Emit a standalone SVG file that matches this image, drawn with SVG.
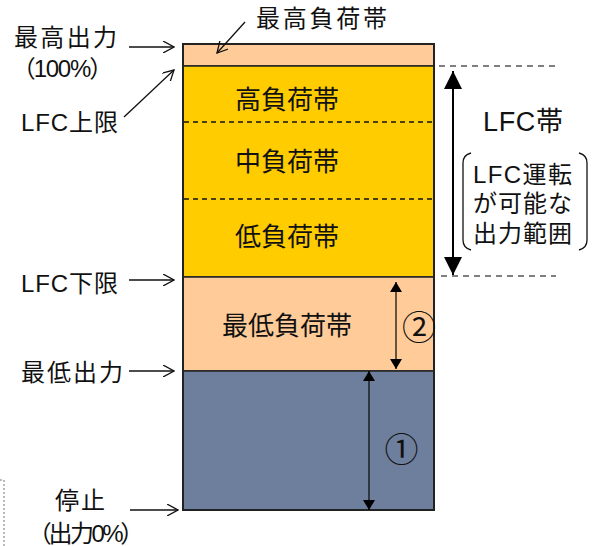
<svg xmlns="http://www.w3.org/2000/svg" width="601" height="546" viewBox="0 0 601 546">
<defs>
<style>
text{font-family:"Liberation Sans","Noto Sans CJK JP",sans-serif;fill:#111;}
.l{font-size:24px;}
.c{font-size:26px;}
.n{font-size:27px;}
.p{font-feature-settings:"palt";}
.cd{font-family:"Noto Sans CJK JP",sans-serif;font-size:34px;}
.band{stroke:#222;stroke-width:1.5;}
.dash{stroke:#111;stroke-width:1.3;stroke-dasharray:5 4;fill:none;}
.gdash{stroke:#555;stroke-width:1.5;stroke-dasharray:6 5;fill:none;}
.pt{stroke:#111;stroke-width:1.3;fill:none;}
.ar{stroke:#111;stroke-width:1.3;fill:none;marker-end:url(#open);}
.ln{stroke:#111;stroke-width:1.3;fill:none;}
</style>
<marker id="open" viewBox="0 0 12 12" refX="11" refY="6" markerWidth="12" markerHeight="12" markerUnits="userSpaceOnUse" orient="auto">
<path d="M0,0 L11,6 L0,12" fill="none" stroke="#111" stroke-width="1.3"/>
</marker>
<marker id="fs" viewBox="0 0 10 12" refX="10" refY="6" markerWidth="10" markerHeight="12" markerUnits="userSpaceOnUse" orient="auto">
<path d="M0,0 L10,6 L0,12 Z" fill="#000"/>
</marker>
<marker id="fsStart" viewBox="0 0 10 12" refX="0" refY="6" markerWidth="10" markerHeight="12" markerUnits="userSpaceOnUse" orient="auto">
<path d="M10,0 L0,6 L10,12 Z" fill="#000"/>
</marker>
<marker id="fb" viewBox="0 0 18 18" refX="18" refY="9" markerWidth="18" markerHeight="18" markerUnits="userSpaceOnUse" orient="auto">
<path d="M0,0 L18,9 L0,18 Z" fill="#000"/>
</marker>
<marker id="fbStart" viewBox="0 0 18 18" refX="0" refY="9" markerWidth="18" markerHeight="18" markerUnits="userSpaceOnUse" orient="auto">
<path d="M18,0 L0,9 L18,18 Z" fill="#000"/>
</marker>
</defs>
<rect width="601" height="546" fill="#fff"/>

<g id="band-max">
<rect x="183" y="44" width="251" height="22" fill="#FFCC99" class="band"/>
</g>
<g id="band-lfc">
<rect x="183" y="66" width="251" height="211" fill="#FFCC00" class="band"/>
<line x1="184" y1="122" x2="433" y2="122" class="dash"/>
<line x1="184" y1="199" x2="433" y2="199" class="dash"/>
<text class="c" x="235" y="109" textLength="104" lengthAdjust="spacing">高負荷帯</text>
<text class="c" x="235" y="171" textLength="104" lengthAdjust="spacing">中負荷帯</text>
<text class="c" x="235" y="246" textLength="104" lengthAdjust="spacing">低負荷帯</text>
</g>
<g id="band-min">
<rect x="183" y="277" width="251" height="94" fill="#FFCC99" class="band"/>
<text class="c" x="222" y="335" textLength="130" lengthAdjust="spacing">最低負荷帯</text>
</g>
<g id="band-stop">
<rect x="183" y="371" width="251" height="139" fill="#6E7F9E" class="band"/>
</g>
<rect x="183" y="44" width="251" height="466" fill="none" stroke="#222" stroke-width="2"/>

<g id="label-maxband"><text class="l" x="256" y="27" textLength="131" lengthAdjust="spacing">最高負荷帯</text></g>
<g id="label-maxout">
<text class="l" x="14" y="46" textLength="103" lengthAdjust="spacing">最高出力</text>
<text class="l p" x="23" y="77" textLength="79" lengthAdjust="spacing">（100%）</text>
</g>
<g id="label-lfcup"><text class="l" x="21" y="131" textLength="97" lengthAdjust="spacing">LFC上限</text></g>
<g id="label-lfclow"><text class="l" x="21" y="292" textLength="97" lengthAdjust="spacing">LFC下限</text></g>
<g id="label-minout"><text class="l" x="21" y="381" textLength="102" lengthAdjust="spacing">最低出力</text></g>
<g id="label-stop">
<text class="l" x="55" y="509" textLength="50" lengthAdjust="spacing">停止</text>
<text class="l p" x="39" y="542" textLength="94" lengthAdjust="spacing">（出力0%）</text>
</g>
<g id="label-lfcband">
<text class="n" x="483" y="131" textLength="80" lengthAdjust="spacing">LFC帯</text>
<text class="l" x="473" y="183" textLength="99" lengthAdjust="spacing">LFC運転</text>
<text class="l" x="473" y="212" textLength="99" lengthAdjust="spacing">が可能な</text>
<text class="l" x="473" y="242" textLength="99" lengthAdjust="spacing">出力範囲</text>
<path d="M471,153 Q463,155 463,163 L463,240 Q463,248 471,250" class="pt"/>
<path d="M579,153 Q587,155 587,163 L587,240 Q587,248 579,250" class="pt"/>
</g>
<g id="label-2"><text class="cd" x="419" y="340" text-anchor="middle">②</text></g>
<g id="label-1"><text class="cd" x="401.5" y="462" text-anchor="middle">①</text></g>

<g id="connectors">
<line x1="129" y1="47" x2="174" y2="47" class="ar"/>
<line x1="245" y1="22" x2="217" y2="53" class="ar"/>
<line x1="124" y1="117" x2="174" y2="70" class="ar"/>
<line x1="129" y1="280" x2="174" y2="280" class="ar"/>
<line x1="129" y1="371" x2="174" y2="371" class="ar"/>
<line x1="130" y1="510" x2="178" y2="510" class="ar"/>
<line x1="439" y1="66" x2="556" y2="66" class="gdash"/>
<line x1="441" y1="276" x2="556" y2="276" class="gdash"/>
<line x1="453" y1="71" x2="453" y2="275" stroke="#000" stroke-width="2" marker-start="url(#fbStart)" marker-end="url(#fb)"/>
<line x1="396" y1="282" x2="396" y2="369" class="ln" marker-start="url(#fsStart)" marker-end="url(#fs)"/>
<line x1="369" y1="371" x2="369" y2="510" class="ln" marker-start="url(#fsStart)" marker-end="url(#fs)"/>
<path d="M0,480 L4,480 L4,546" fill="none" stroke="#777" stroke-width="1" stroke-dasharray="2 2"/>
</g>
</svg>
